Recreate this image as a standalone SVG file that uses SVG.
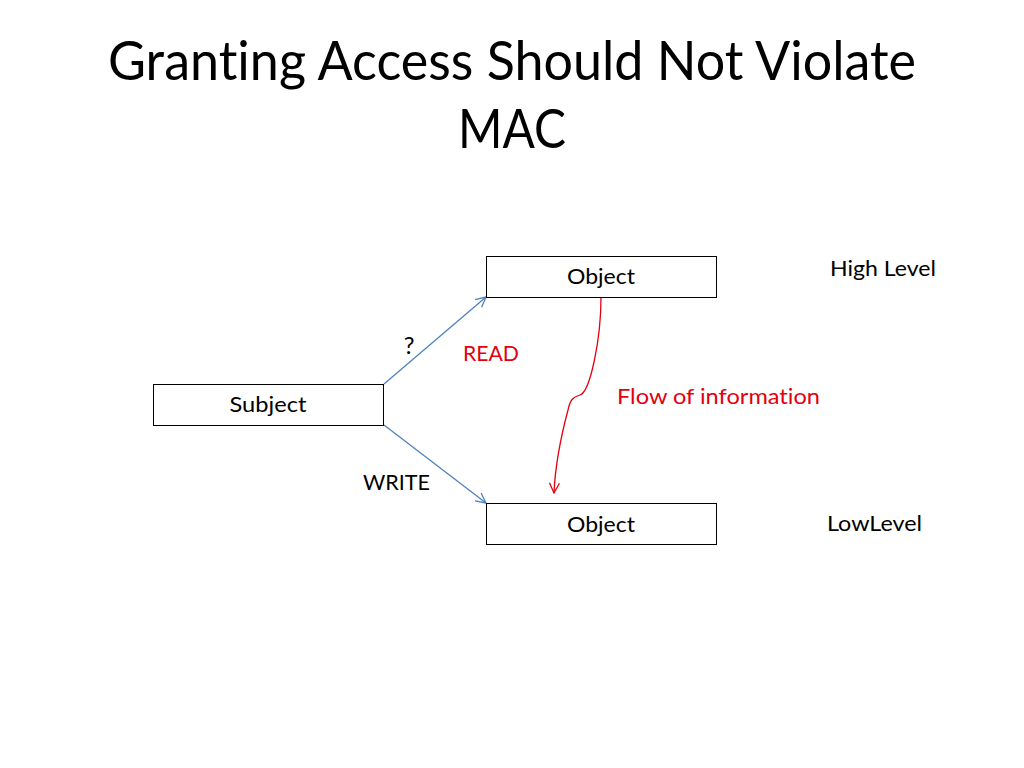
<svg xmlns="http://www.w3.org/2000/svg" width="1024" height="768" viewBox="0 0 1024 768">
<defs>
<style>
text{font-family:Lato,"Liberation Sans",Arial,sans-serif;fill:#000;font-variant-ligatures:none;font-feature-settings:"liga" 0,"dlig" 0}
.title{font-size:54px}
.lbl{font-size:22px}
.red{fill:#e3000f}
.box{fill:#fff;stroke:#000;stroke-width:1}
.blue{fill:none;stroke:#4f81bd;stroke-width:1.3}
.redl{fill:none;stroke:#e3000f;stroke-width:1.3}
</style>
<marker id="ab" viewBox="0 0 12 12" refX="11" refY="6" markerWidth="12" markerHeight="12" markerUnits="userSpaceOnUse" orient="auto">
<path d="M1,1 L11,6 L1,11" fill="none" stroke="#4f81bd" stroke-width="1.3"/>
</marker>
<marker id="ar" viewBox="0 0 12 12" refX="11" refY="6" markerWidth="12" markerHeight="12" markerUnits="userSpaceOnUse" orient="auto">
<path d="M1,1 L11,6 L1,11" fill="none" stroke="#e3000f" stroke-width="1.3"/>
</marker>
</defs>
<rect width="1024" height="768" fill="#fff"/>
<text class="title" x="512" y="80" text-anchor="middle" textLength="808" lengthAdjust="spacingAndGlyphs">Granting Access Should Not Violate</text>
<text class="title" x="512" y="148" text-anchor="middle" textLength="108" lengthAdjust="spacingAndGlyphs">MAC</text>
<g id="connectors">
<path class="blue" d="M384,384 L486,297" marker-end="url(#ab)"/>
<path class="blue" d="M384,425 L486,503" marker-end="url(#ab)"/>
<path class="redl" d="M601,297 C601,340 590,392 580,395 C573,397 570,400 568,410 C560,440 555,470 554,493" marker-end="url(#ar)"/>
</g>
<g id="obj-high">
<rect class="box" x="486.5" y="256.5" width="230" height="41"/>
<text class="lbl" x="601" y="284" text-anchor="middle" textLength="68" lengthAdjust="spacingAndGlyphs">Object</text>
</g>
<g id="obj-low">
<rect class="box" x="486.5" y="503.5" width="230" height="41"/>
<text class="lbl" x="601" y="532" text-anchor="middle" textLength="68" lengthAdjust="spacingAndGlyphs">Object</text>
</g>
<g id="subject">
<rect class="box" x="153.5" y="384.5" width="230" height="41"/>
<text class="lbl" x="268" y="412" text-anchor="middle" textLength="77" lengthAdjust="spacingAndGlyphs">Subject</text>
</g>
<text class="lbl" x="409" y="354" text-anchor="middle" style="font-size:24px">?</text>
<text class="lbl red" x="463" y="361" textLength="56" lengthAdjust="spacingAndGlyphs">READ</text>
<text class="lbl red" x="617" y="404" textLength="203" lengthAdjust="spacingAndGlyphs">Flow of information</text>
<text class="lbl" x="363" y="490" textLength="67" lengthAdjust="spacingAndGlyphs">WRITE</text>
<text class="lbl" x="830" y="276" textLength="106" lengthAdjust="spacingAndGlyphs">High Level</text>
<text class="lbl" x="827" y="531" textLength="95" lengthAdjust="spacingAndGlyphs">LowLevel</text>
</svg>
